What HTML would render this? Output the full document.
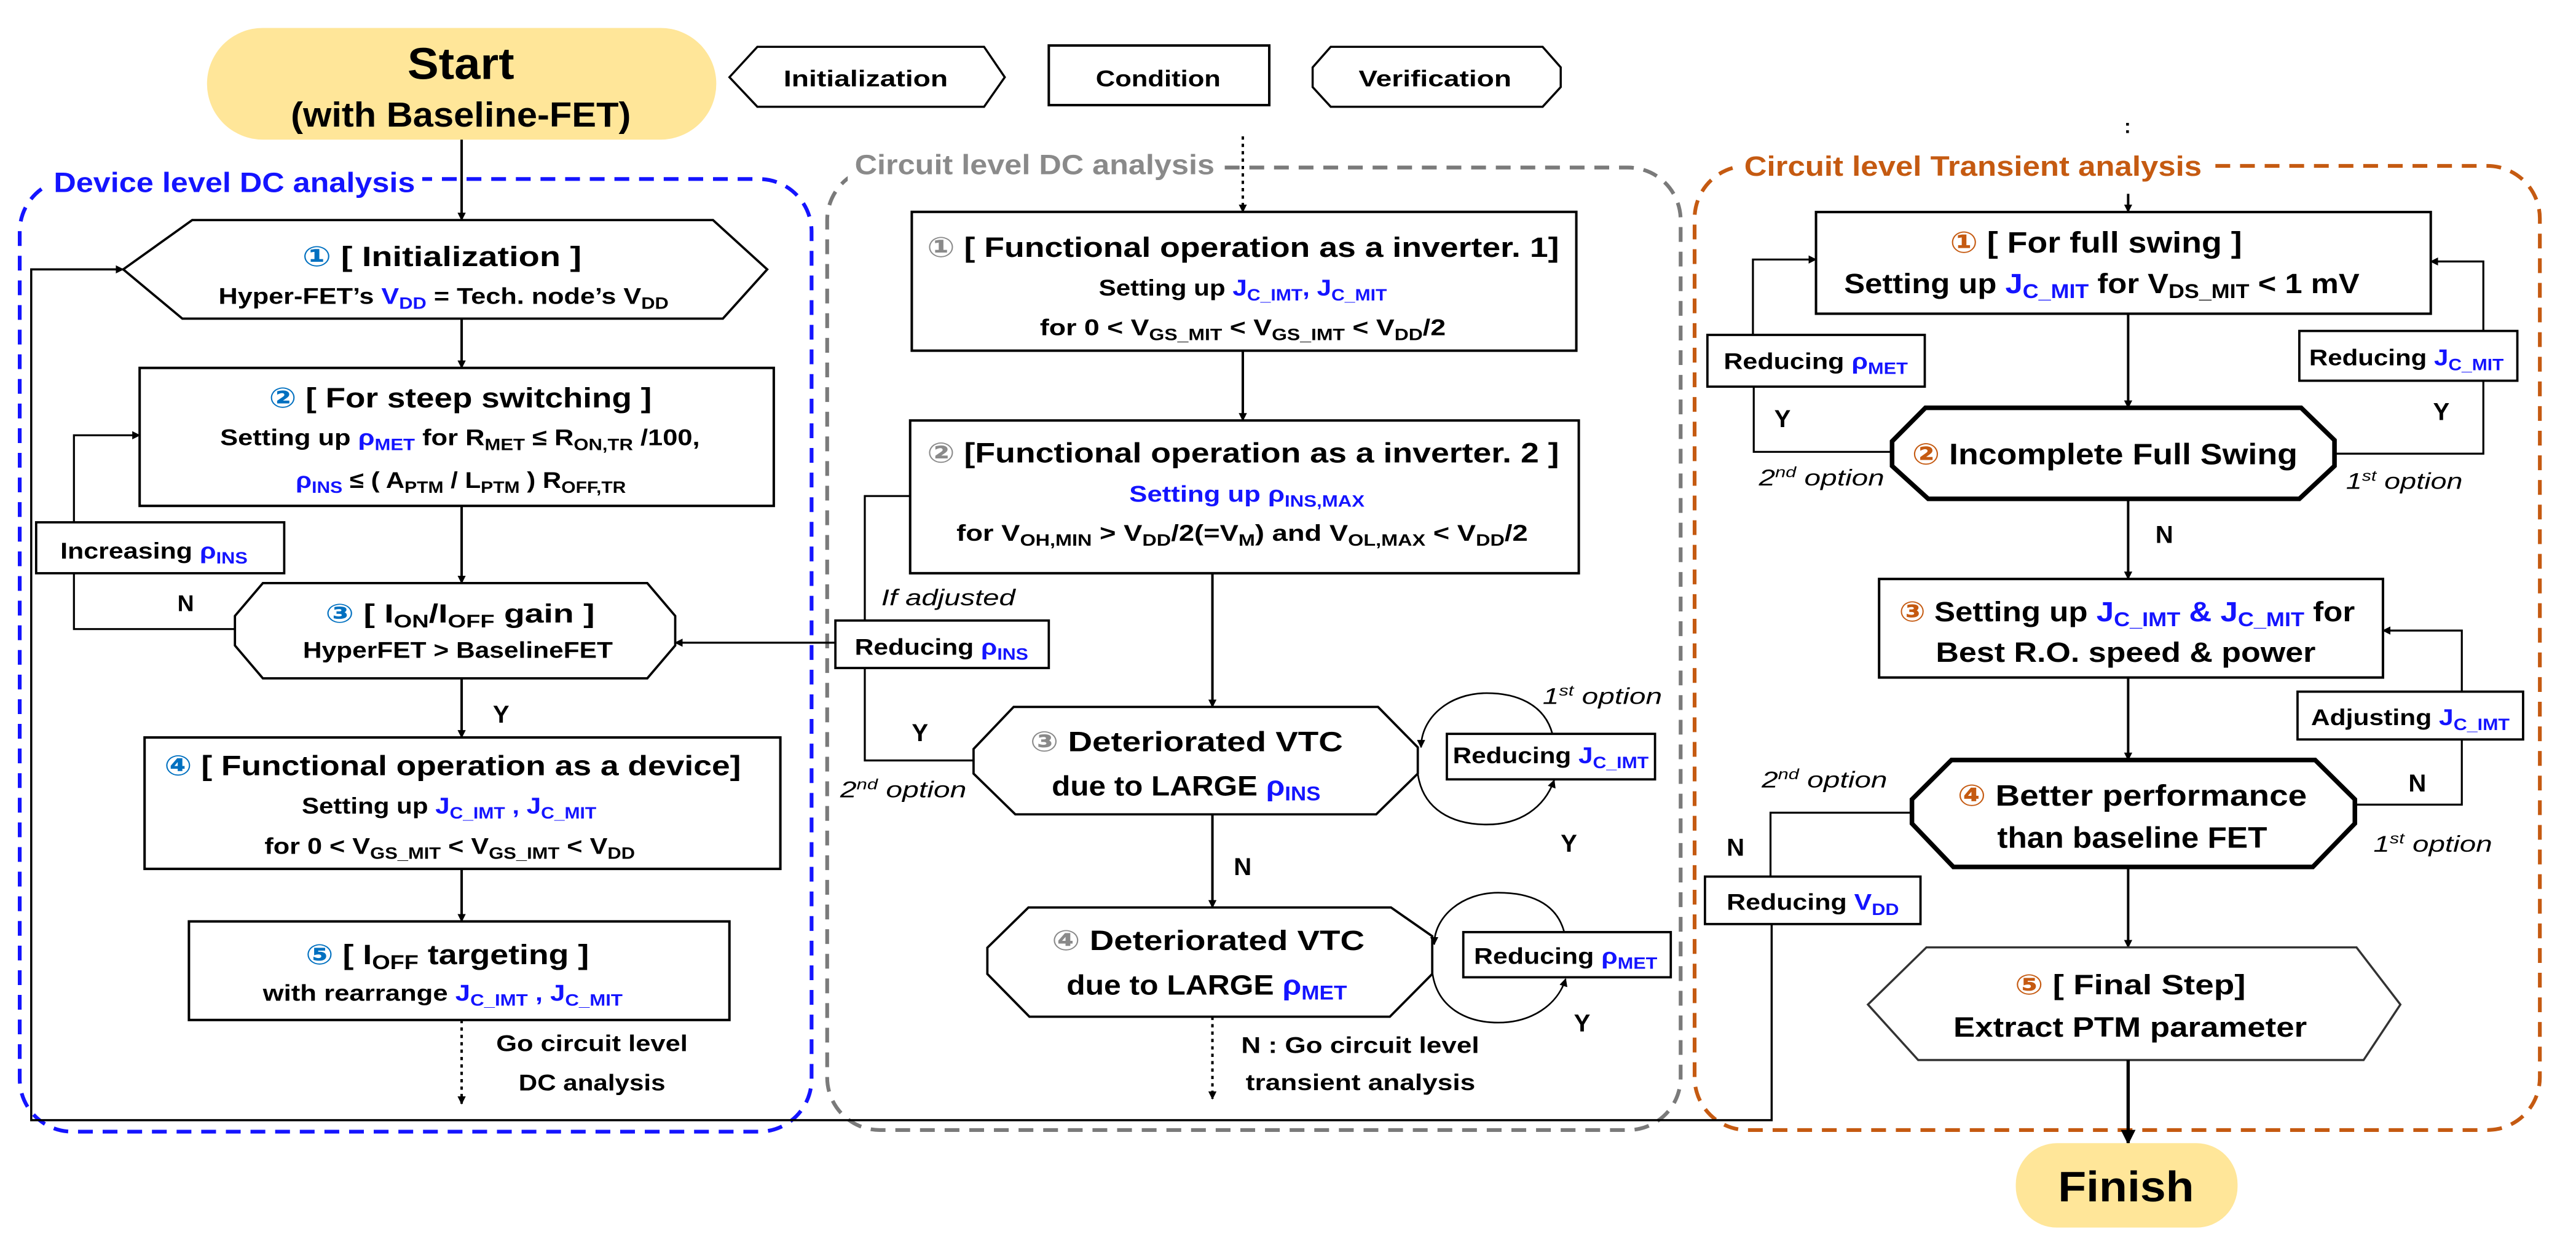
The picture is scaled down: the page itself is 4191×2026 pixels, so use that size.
<!DOCTYPE html>
<html><head><meta charset="utf-8"><style>
html,body{margin:0;padding:0;background:#fff}
svg{display:block}
text{font-family:"Liberation Sans","DejaVu Sans",sans-serif;font-weight:bold;fill:#000}
.i{font-style:italic;font-weight:normal}
</style></head><body>
<svg width="4191" height="2026" viewBox="0 0 1568 758" xmlns="http://www.w3.org/2000/svg">
<defs>
<marker id="a" viewBox="0 0 10 10" refX="9" refY="5" markerWidth="5" markerHeight="5" orient="auto" markerUnits="userSpaceOnUse"><path d="M0,0 L10,5 L0,10 z" fill="#000"/></marker>
<marker id="b" viewBox="0 0 10 10" refX="9" refY="5" markerWidth="9" markerHeight="9" orient="auto" markerUnits="userSpaceOnUse"><path d="M0,0 L10,5 L0,10 z" fill="#000"/></marker>
</defs>
<rect width="1568" height="758" fill="#fff"/>

<!-- dashed group boxes -->
<rect x="12" y="109" width="482" height="580" rx="32" fill="none" stroke="#1414ff" stroke-width="2.3" stroke-dasharray="9 6"/>
<rect x="503.5" y="102" width="519.5" height="586" rx="32" fill="none" stroke="#7a7a7a" stroke-width="2.3" stroke-dasharray="9 6"/>
<rect x="1031.5" y="101" width="514.5" height="587" rx="32" fill="none" stroke="#c55a11" stroke-width="2.3" stroke-dasharray="9 6"/>
<rect x="28" y="95" width="229" height="22" fill="#fff"/>
<rect x="516" y="88" width="228" height="22" fill="#fff"/>
<rect x="1057" y="88" width="288" height="22" fill="#fff"/>
<text x="32.7" y="117" font-size="17" style="fill:#1414ff" textLength="220" lengthAdjust="spacingAndGlyphs">Device level DC analysis</text>
<text x="520.3" y="106" font-size="17" style="fill:#8a8a8a" textLength="219" lengthAdjust="spacingAndGlyphs">Circuit level DC analysis</text>
<text x="1061.7" y="107" font-size="17" style="fill:#c55a11" textLength="278.5" lengthAdjust="spacingAndGlyphs">Circuit level Transient analysis</text>

<!-- Start -->
<rect x="126" y="17" width="310" height="68" rx="34" fill="#ffe699"/>
<text x="248" y="48" font-size="27" textLength="65" lengthAdjust="spacingAndGlyphs">Start</text>
<text x="177" y="77" font-size="21" textLength="207" lengthAdjust="spacingAndGlyphs">(with Baseline-FET)</text>

<!-- legend -->
<polygon points="444,47 461,28.5 599,28.5 611.6,47 599,65 461,65" fill="#fff" stroke="#000" stroke-width="1.3"/>
<text x="477" y="52.5" font-size="14" textLength="100" lengthAdjust="spacingAndGlyphs">Initialization</text>
<rect x="638.4" y="27.7" width="134.2" height="36.3" fill="#fff" stroke="#000" stroke-width="1.5"/>
<text x="667" y="52.5" font-size="14" textLength="76" lengthAdjust="spacingAndGlyphs">Condition</text>
<polygon points="799,41 810,28.5 939,28.5 950,41 950,53 939,65 810,65 799,53" fill="#fff" stroke="#000" stroke-width="1.3"/>
<text x="827" y="52.5" font-size="14" textLength="93" lengthAdjust="spacingAndGlyphs">Verification</text>

<!-- ===== Device column ===== -->
<line x1="281" y1="85" x2="281" y2="134" stroke="#000" stroke-width="1.5" marker-end="url(#a)"/>
<polygon points="75,164 117,134 434,134 467,164 440,194 111,194" fill="#fff" stroke="#000" stroke-width="1.4"/>
<text x="184" y="162" font-size="17" textLength="170" lengthAdjust="spacingAndGlyphs"><tspan style="fill:#0070c0">①</tspan> [ Initialization ]</text>
<text x="133" y="185" font-size="14" textLength="274" lengthAdjust="spacingAndGlyphs">Hyper-FET’s <tspan style="fill:#1414ff">V<tspan font-size="10" dy="3">DD</tspan></tspan><tspan dy="-3"> = Tech. node’s V</tspan><tspan font-size="10" dy="3">DD</tspan></text>
<line x1="281" y1="194" x2="281" y2="224" stroke="#000" stroke-width="1.5" marker-end="url(#a)"/>
<rect x="85" y="224" width="386" height="84" fill="#fff" stroke="#000" stroke-width="1.5"/>
<text x="163.7" y="248" font-size="17" textLength="233" lengthAdjust="spacingAndGlyphs"><tspan style="fill:#0070c0">②</tspan> [ For steep switching ]</text>
<text x="134" y="271" font-size="14" textLength="292" lengthAdjust="spacingAndGlyphs">Setting up <tspan style="fill:#1414ff">ρ<tspan font-size="10" dy="3">MET</tspan></tspan><tspan dy="-3"> for R</tspan><tspan font-size="10" dy="3">MET</tspan><tspan dy="-3"> ≤ R</tspan><tspan font-size="10" dy="3">ON,TR</tspan><tspan dy="-3"> /100,</tspan></text>
<text x="180" y="297" font-size="14" textLength="201" lengthAdjust="spacingAndGlyphs"><tspan style="fill:#1414ff">ρ<tspan font-size="10" dy="3">INS</tspan></tspan><tspan dy="-3"> ≤ ( A</tspan><tspan font-size="10" dy="3">PTM</tspan><tspan dy="-3"> / L</tspan><tspan font-size="10" dy="3">PTM</tspan><tspan dy="-3"> ) R</tspan><tspan font-size="10" dy="3">OFF,TR</tspan></text>
<line x1="281" y1="308" x2="281" y2="355" stroke="#000" stroke-width="1.5" marker-end="url(#a)"/>
<polyline points="143,383 45,383 45,265 85,265" fill="none" stroke="#000" stroke-width="1.2" marker-end="url(#a)"/>
<rect x="22" y="318" width="151" height="31" fill="#fff" stroke="#000" stroke-width="1.4"/>
<text x="36.7" y="340" font-size="14" textLength="114" lengthAdjust="spacingAndGlyphs">Increasing <tspan style="fill:#1414ff">ρ<tspan font-size="10" dy="3">INS</tspan></tspan></text>
<text x="108" y="372" font-size="14">N</text>
<polygon points="143,375 160,355 394,355 411,375 411,393 394,413 160,413 143,393" fill="#fff" stroke="#000" stroke-width="1.4"/>
<text x="198" y="379" font-size="16" textLength="164" lengthAdjust="spacingAndGlyphs"><tspan style="fill:#0070c0">③</tspan> [ I<tspan font-size="11" dy="3">ON</tspan><tspan dy="-3">/I</tspan><tspan font-size="11" dy="3">OFF</tspan><tspan dy="-3"> gain ]</tspan></text>
<text x="184.4" y="400.6" font-size="14" textLength="188.6" lengthAdjust="spacingAndGlyphs">HyperFET &gt; BaselineFET</text>
<line x1="281" y1="413" x2="281" y2="449" stroke="#000" stroke-width="1.5" marker-end="url(#a)"/>
<text x="300" y="440" font-size="15">Y</text>
<rect x="88" y="449" width="387" height="80" fill="#fff" stroke="#000" stroke-width="1.5"/>
<text x="100" y="472" font-size="17" textLength="351" lengthAdjust="spacingAndGlyphs"><tspan style="fill:#0070c0">④</tspan> [ Functional operation as a device]</text>
<text x="183.7" y="495.3" font-size="14" textLength="179.3" lengthAdjust="spacingAndGlyphs">Setting up <tspan style="fill:#1414ff">J<tspan font-size="10" dy="3">C_IMT</tspan><tspan dy="-3"> , J</tspan><tspan font-size="10" dy="3">C_MIT</tspan></tspan></text>
<text x="161" y="519.8" font-size="14" textLength="225.5" lengthAdjust="spacingAndGlyphs">for 0 &lt; V<tspan font-size="10" dy="3">GS_MIT</tspan><tspan dy="-3"> &lt; V</tspan><tspan font-size="10" dy="3">GS_IMT</tspan><tspan dy="-3"> &lt; V</tspan><tspan font-size="10" dy="3">DD</tspan></text>
<line x1="281" y1="529" x2="281" y2="561" stroke="#000" stroke-width="1.5" marker-end="url(#a)"/>
<rect x="115" y="561" width="329" height="60" fill="#fff" stroke="#000" stroke-width="1.5"/>
<text x="186" y="587" font-size="17" textLength="172.5" lengthAdjust="spacingAndGlyphs"><tspan style="fill:#0070c0">⑤</tspan> [ I<tspan font-size="12" dy="3">OFF</tspan><tspan dy="-3"> targeting ]</tspan></text>
<text x="160" y="609.2" font-size="14" textLength="219" lengthAdjust="spacingAndGlyphs">with rearrange <tspan style="fill:#1414ff">J<tspan font-size="10" dy="3">C_IMT</tspan><tspan dy="-3"> , J</tspan><tspan font-size="10" dy="3">C_MIT</tspan></tspan></text>
<line x1="281" y1="621" x2="281" y2="672" stroke="#000" stroke-width="1.5" stroke-dasharray="2 2.5" marker-end="url(#a)"/>
<text x="302" y="640" font-size="14" textLength="116.6" lengthAdjust="spacingAndGlyphs">Go circuit level</text>
<text x="315.7" y="663.9" font-size="14" textLength="89.3" lengthAdjust="spacingAndGlyphs">DC analysis</text>

<polyline points="1078.4,562.6 1078.4,682 19,682 19,164 75,164" fill="none" stroke="#000" stroke-width="1.3" marker-end="url(#a)"/>

<!-- ===== Circuit DC column ===== -->
<line x1="756.5" y1="83" x2="756.5" y2="129" stroke="#000" stroke-width="1.5" stroke-dasharray="2 2.5" marker-end="url(#a)"/>
<rect x="555" y="129" width="404.5" height="84.5" fill="#fff" stroke="#000" stroke-width="1.5"/>
<text x="564.3" y="156.3" font-size="17" textLength="384.7" lengthAdjust="spacingAndGlyphs"><tspan style="fill:#8a8a8a">①</tspan> [ Functional operation as a inverter. 1]</text>
<text x="668.8" y="180" font-size="14" textLength="175.4" lengthAdjust="spacingAndGlyphs">Setting up <tspan style="fill:#1414ff">J<tspan font-size="10" dy="3">C_IMT</tspan><tspan dy="-3">, J</tspan><tspan font-size="10" dy="3">C_MIT</tspan></tspan></text>
<text x="633" y="204" font-size="14" textLength="247" lengthAdjust="spacingAndGlyphs">for 0 &lt; V<tspan font-size="10" dy="3">GS_MIT</tspan><tspan dy="-3"> &lt; V</tspan><tspan font-size="10" dy="3">GS_IMT</tspan><tspan dy="-3"> &lt; V</tspan><tspan font-size="10" dy="3">DD</tspan><tspan dy="-3">/2</tspan></text>
<line x1="756.5" y1="213.5" x2="756.5" y2="256" stroke="#000" stroke-width="1.5" marker-end="url(#a)"/>
<polyline points="554,302 526.4,302 526.4,463 592.6,463" fill="none" stroke="#000" stroke-width="1.2"/>
<rect x="554" y="256" width="407" height="93" fill="#fff" stroke="#000" stroke-width="1.5"/>
<text x="564.3" y="281.5" font-size="17" textLength="384.7" lengthAdjust="spacingAndGlyphs"><tspan style="fill:#8a8a8a">②</tspan> [Functional operation as a inverter. 2 ]</text>
<text x="687.4" y="305.4" font-size="14" style="fill:#1414ff" textLength="143.2" lengthAdjust="spacingAndGlyphs">Setting up ρ<tspan font-size="10" dy="3">INS,MAX</tspan></text>
<text x="582.2" y="329.3" font-size="14" textLength="347.8" lengthAdjust="spacingAndGlyphs">for V<tspan font-size="10" dy="3">OH,MIN</tspan><tspan dy="-3"> &gt; V</tspan><tspan font-size="10" dy="3">DD</tspan><tspan dy="-3">/2(=V</tspan><tspan font-size="10" dy="3">M</tspan><tspan dy="-3">) and V</tspan><tspan font-size="10" dy="3">OL,MAX</tspan><tspan dy="-3"> &lt; V</tspan><tspan font-size="10" dy="3">DD</tspan><tspan dy="-3">/2</tspan></text>
<text x="536.4" y="368.6" font-size="14" class="i" textLength="81.6" lengthAdjust="spacingAndGlyphs">If adjusted</text>
<line x1="508.5" y1="391.3" x2="411" y2="391.3" stroke="#000" stroke-width="1.2" marker-end="url(#a)"/>
<rect x="508.5" y="377.8" width="129.9" height="28.9" fill="#fff" stroke="#000" stroke-width="1.4"/>
<text x="520.3" y="398.6" font-size="14" textLength="105.6" lengthAdjust="spacingAndGlyphs">Reducing <tspan style="fill:#1414ff">ρ<tspan font-size="10" dy="3">INS</tspan></tspan></text>
<text x="555" y="451.2" font-size="15">Y</text>
<text x="511.4" y="485.5" font-size="14" class="i" textLength="76.9" lengthAdjust="spacingAndGlyphs">2<tspan font-size="9" dy="-5">nd</tspan><tspan dy="5"> option</tspan></text>
<line x1="738" y1="349" x2="738" y2="430.4" stroke="#000" stroke-width="1.5" marker-end="url(#a)"/>
<polygon points="592.6,456 617,430.4 838.8,430.4 863,455 863,471 837.7,495.8 618,495.8 592.6,471" fill="#fff" stroke="#000" stroke-width="1.4"/>
<text x="627" y="457.3" font-size="17" textLength="190.4" lengthAdjust="spacingAndGlyphs"><tspan style="fill:#8a8a8a">③</tspan> Deteriorated VTC</text>
<text x="640.2" y="484.3" font-size="17" textLength="163.6" lengthAdjust="spacingAndGlyphs">due to LARGE <tspan style="fill:#1414ff">ρ<tspan font-size="12" dy="3">INS</tspan></tspan></text>
<path d="M945,447 C940,428 922,422 905,422 C882,422 865,437 865,455" fill="none" stroke="#000" stroke-width="1" marker-end="url(#a)"/>
<path d="M863,471 C866,493 884,502 905,502 C925,502 940,492 946,475" fill="none" stroke="#000" stroke-width="1" marker-end="url(#a)"/>
<rect x="880.7" y="446.8" width="126.7" height="27.7" fill="#fff" stroke="#000" stroke-width="1.4"/>
<text x="884.3" y="464.7" font-size="14" textLength="119.2" lengthAdjust="spacingAndGlyphs">Reducing <tspan style="fill:#1414ff">J<tspan font-size="10" dy="3">C_IMT</tspan></tspan></text>
<text x="939" y="428.5" font-size="14" class="i" textLength="72.7" lengthAdjust="spacingAndGlyphs">1<tspan font-size="9" dy="-5">st</tspan><tspan dy="5"> option</tspan></text>
<text x="950" y="518.6" font-size="15">Y</text>
<line x1="738" y1="495.8" x2="738" y2="552.5" stroke="#000" stroke-width="1.5" marker-end="url(#a)"/>
<text x="751" y="532.8" font-size="15">N</text>
<polygon points="601,577 626,552.5 846.7,552.5 871.8,570 871.8,593 846,619 626.6,619 601,593" fill="#fff" stroke="#000" stroke-width="1.4"/>
<text x="640.2" y="578.5" font-size="17" textLength="190.4" lengthAdjust="spacingAndGlyphs"><tspan style="fill:#8a8a8a">④</tspan> Deteriorated VTC</text>
<text x="649.2" y="605.5" font-size="17" textLength="170.7" lengthAdjust="spacingAndGlyphs">due to LARGE <tspan style="fill:#1414ff">ρ<tspan font-size="12" dy="3">MET</tspan></tspan></text>
<path d="M952,567 C947,549 930,543.5 912,543.5 C890,543.5 873,558 873,575" fill="none" stroke="#000" stroke-width="1" marker-end="url(#a)"/>
<path d="M872,593 C875,613 892,622.6 912,622.6 C932,622.6 948,612 953,596" fill="none" stroke="#000" stroke-width="1" marker-end="url(#a)"/>
<rect x="890.7" y="567.5" width="126.3" height="27.5" fill="#fff" stroke="#000" stroke-width="1.4"/>
<text x="897.2" y="586.9" font-size="14" textLength="111.6" lengthAdjust="spacingAndGlyphs">Reducing <tspan style="fill:#1414ff">ρ<tspan font-size="10" dy="3">MET</tspan></tspan></text>
<text x="958" y="628" font-size="15">Y</text>
<line x1="738" y1="619" x2="738" y2="669" stroke="#000" stroke-width="1.5" stroke-dasharray="2 2.5" marker-end="url(#a)"/>
<text x="755.5" y="641" font-size="14" textLength="144.9" lengthAdjust="spacingAndGlyphs">N : Go circuit level</text>
<text x="758.3" y="663.7" font-size="14" textLength="139.7" lengthAdjust="spacingAndGlyphs">transient analysis</text>

<!-- ===== Transient column ===== -->
<text x="1293" y="81" font-size="12">:</text>
<line x1="1295.4" y1="118" x2="1295.4" y2="129" stroke="#000" stroke-width="1.5" marker-end="url(#a)"/>
<polyline points="1067,235.4 1067,158 1105.4,158" fill="none" stroke="#000" stroke-width="1.2" marker-end="url(#a)"/>
<polyline points="1511.6,201.5 1511.6,159.2 1479.6,159.2" fill="none" stroke="#000" stroke-width="1.2" marker-end="url(#a)"/>
<polyline points="1067.5,235.4 1067.5,275.1 1151.7,275.1" fill="none" stroke="#000" stroke-width="1.2"/>
<polyline points="1511.6,231.8 1511.6,276.2 1421,276.2" fill="none" stroke="#000" stroke-width="1.2"/>
<rect x="1105.4" y="129.1" width="374.2" height="61.9" fill="#fff" stroke="#000" stroke-width="1.5"/>
<text x="1186.9" y="153.8" font-size="18" textLength="177.8" lengthAdjust="spacingAndGlyphs"><tspan style="fill:#c55a11">①</tspan> [ For full swing ]</text>
<text x="1122.5" y="178.5" font-size="17" textLength="313.7" lengthAdjust="spacingAndGlyphs">Setting up <tspan style="fill:#1414ff">J<tspan font-size="12" dy="3">C_MIT</tspan></tspan><tspan dy="-3"> for V</tspan><tspan font-size="12" dy="3">DS_MIT</tspan><tspan dy="-3"> &lt; 1 mV</tspan></text>
<rect x="1039.3" y="203.9" width="132.3" height="31.5" fill="#fff" stroke="#000" stroke-width="1.4"/>
<text x="1049.2" y="224.7" font-size="14" textLength="112.1" lengthAdjust="spacingAndGlyphs">Reducing <tspan style="fill:#1414ff">ρ<tspan font-size="10" dy="3">MET</tspan></tspan></text>
<rect x="1399.6" y="201.5" width="132.7" height="30.3" fill="#fff" stroke="#000" stroke-width="1.4"/>
<text x="1405.6" y="222.5" font-size="14" textLength="118.4" lengthAdjust="spacingAndGlyphs">Reducing <tspan style="fill:#1414ff">J<tspan font-size="10" dy="3">C_MIT</tspan></tspan></text>
<text x="1080" y="260.1" font-size="15">Y</text>
<text x="1481" y="255.8" font-size="15">Y</text>
<line x1="1295.4" y1="191" x2="1295.4" y2="248.3" stroke="#000" stroke-width="1.5" marker-end="url(#a)"/>
<polygon points="1151.7,268.7 1172,248.3 1400.7,248.3 1421,268 1421,283.7 1399.6,303.7 1173.7,303.7 1151.7,283.7" fill="#fff" stroke="#000" stroke-width="2.8"/>
<text x="1163.8" y="282.7" font-size="18" textLength="234.7" lengthAdjust="spacingAndGlyphs"><tspan style="fill:#c55a11">②</tspan> Incomplete Full Swing</text>
<text x="1070.6" y="295.6" font-size="14" class="i" textLength="76.4" lengthAdjust="spacingAndGlyphs">2<tspan font-size="9" dy="-5">nd</tspan><tspan dy="5"> option</tspan></text>
<text x="1428" y="297.7" font-size="14" class="i" textLength="71" lengthAdjust="spacingAndGlyphs">1<tspan font-size="9" dy="-5">st</tspan><tspan dy="5"> option</tspan></text>
<line x1="1295.4" y1="303.7" x2="1295.4" y2="352.5" stroke="#000" stroke-width="1.5" marker-end="url(#a)"/>
<text x="1312" y="330.6" font-size="15">N</text>
<polyline points="1498.5,421.1 1498.5,383.9 1450.5,383.9" fill="none" stroke="#000" stroke-width="1.2" marker-end="url(#a)"/>
<polyline points="1498.5,450.2 1498.5,489.9 1433.4,489.9" fill="none" stroke="#000" stroke-width="1.2"/>
<rect x="1143.8" y="352.5" width="306.7" height="60" fill="#fff" stroke="#000" stroke-width="1.5"/>
<text x="1155.9" y="378.3" font-size="17" textLength="277.5" lengthAdjust="spacingAndGlyphs"><tspan style="fill:#c55a11">③</tspan> Setting up <tspan style="fill:#1414ff">J<tspan font-size="12" dy="3">C_IMT</tspan><tspan dy="-3"> &amp; J</tspan><tspan font-size="12" dy="3">C_MIT</tspan></tspan><tspan dy="-3"> for</tspan></text>
<text x="1178.3" y="403" font-size="17" textLength="231.2" lengthAdjust="spacingAndGlyphs">Best R.O. speed &amp; power</text>
<rect x="1398.5" y="421.1" width="137.3" height="29.1" fill="#fff" stroke="#000" stroke-width="1.4"/>
<text x="1406.7" y="441.4" font-size="14" textLength="120.9" lengthAdjust="spacingAndGlyphs">Adjusting <tspan style="fill:#1414ff">J<tspan font-size="10" dy="3">C_IMT</tspan></tspan></text>
<text x="1466" y="481.8" font-size="15">N</text>
<line x1="1295.4" y1="412.5" x2="1295.4" y2="462.7" stroke="#000" stroke-width="1.5" marker-end="url(#a)"/>
<polyline points="1163.8,494.8 1077.7,494.8 1077.7,533.7" fill="none" stroke="#000" stroke-width="1.2"/>
<polygon points="1163.8,486.7 1187.9,462.7 1409.2,462.7 1433.4,486.7 1433.4,501.4 1407.8,527.8 1189,527.8 1163.8,501.4" fill="#fff" stroke="#000" stroke-width="2.8"/>
<text x="1191.5" y="490.4" font-size="18" textLength="212.7" lengthAdjust="spacingAndGlyphs"><tspan style="fill:#c55a11">④</tspan> Better performance</text>
<text x="1215.7" y="516.1" font-size="18" textLength="164.3" lengthAdjust="spacingAndGlyphs">than baseline FET</text>
<text x="1072.3" y="479.4" font-size="14" class="i" textLength="76.5" lengthAdjust="spacingAndGlyphs">2<tspan font-size="9" dy="-5">nd</tspan><tspan dy="5"> option</tspan></text>
<text x="1444.7" y="518.5" font-size="14" class="i" textLength="72.3" lengthAdjust="spacingAndGlyphs">1<tspan font-size="9" dy="-5">st</tspan><tspan dy="5"> option</tspan></text>
<text x="1051" y="521" font-size="15">N</text>
<rect x="1037.8" y="533.7" width="131.2" height="28.9" fill="#fff" stroke="#000" stroke-width="1.4"/>
<text x="1051" y="554" font-size="14" textLength="104.9" lengthAdjust="spacingAndGlyphs">Reducing <tspan style="fill:#1414ff">V<tspan font-size="10" dy="3">DD</tspan></tspan></text>
<line x1="1295.4" y1="527.8" x2="1295.4" y2="576.8" stroke="#000" stroke-width="1.5" marker-end="url(#a)"/>
<polygon points="1137,611.6 1172.6,576.8 1434.4,576.8 1461.1,611.6 1438.7,645.4 1167.6,645.4" fill="#fff" stroke="#333" stroke-width="1.3"/>
<text x="1226.4" y="605.4" font-size="17" textLength="140.5" lengthAdjust="spacingAndGlyphs"><tspan style="fill:#c55a11">⑤</tspan> [ Final Step]</text>
<text x="1189" y="631.1" font-size="17" textLength="215.2" lengthAdjust="spacingAndGlyphs">Extract PTM parameter</text>
<line x1="1295.4" y1="645.4" x2="1295.4" y2="696" stroke="#000" stroke-width="2" marker-end="url(#b)"/>
<rect x="1227" y="696" width="135" height="51.4" rx="25" fill="#ffe699"/>
<text x="1252.7" y="731.5" font-size="26" textLength="82.8" lengthAdjust="spacingAndGlyphs">Finish</text>
</svg>
</body></html>
